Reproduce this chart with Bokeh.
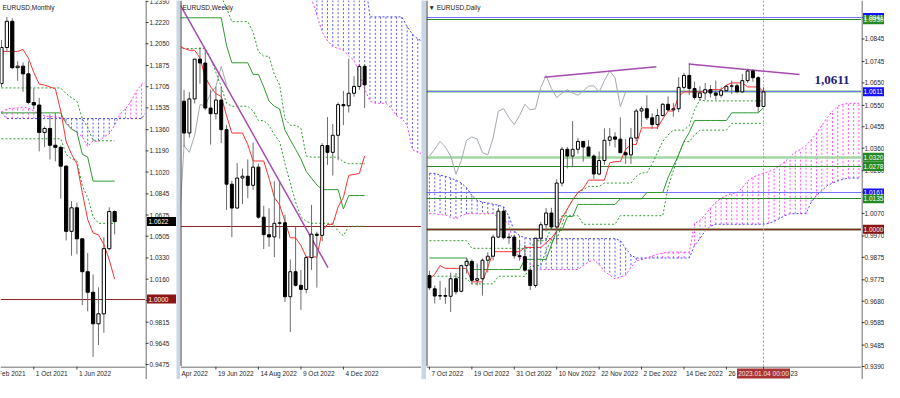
from bokeh.plotting import figure
from bokeh.layouts import row, column
from bokeh.models import ColumnDataSource, Range1d, Label, Span
from bokeh.core.properties import value
from bokeh.embed import file_html
from bokeh.resources import INLINE

# ======================= MONTHLY (x = months since Jan 2021) =======================
m_x = list(range(3, 25))
m_open = [1.1730, 1.2020, 1.2230, 1.1858, 1.1870, 1.1808, 1.1578, 1.1558, 1.1338, 1.1370, 1.1235,
          1.1218, 1.1067, 1.0544, 1.0733, 1.0484, 1.0220, 1.0055, 0.9802, 0.9882, 1.0405, 1.0703]
m_high = [1.2080, 1.2265, 1.2254, 1.1909, 1.1900, 1.1909, 1.1692, 1.1616, 1.1386, 1.1483, 1.1495,
          1.1233, 1.1076, 1.0787, 1.0774, 1.0488, 1.0369, 1.0198, 1.0094, 1.0497, 1.0737, 1.0713]
m_low = [1.1700, 1.1985, 1.1845, 1.1752, 1.1664, 1.1563, 1.1524, 1.1186, 1.1221, 1.1121, 1.1106,
         1.0806, 1.0471, 1.0349, 1.0359, 0.9952, 0.9901, 0.9536, 0.9632, 0.9730, 1.0393, 1.0520]
m_close = [1.2020, 1.2230, 1.1858, 1.1870, 1.1808, 1.1578, 1.1558, 1.1338, 1.1370, 1.1235, 1.1218,
           1.1067, 1.0544, 1.0733, 1.0484, 1.0220, 1.0055, 0.9802, 0.9882, 1.0405, 1.0703, 1.0622]
m_tenkan = [1.1988, 1.1988, 1.1988, 1.1988, 1.2004, 1.1934, 1.1819, 1.1726, 1.1718, 1.1703, 1.1688,
            1.1510, 1.1264, 1.1163, 1.1086, 1.0855, 1.0639, 1.0531, 1.0516, 1.0439, 1.0315, 1.0161]
m_kijun = [1.1495] * 12 + [1.1410, 1.1364, 1.1341, 1.1163, 1.1140, 1.0947, 1.0947, 1.0947, 1.0947, 1.0947]
m_dot1 = [1.1695] * 12 + [1.1649, 1.1618, 1.1588, 1.1449, 1.1379, 1.1271, 1.1271, 1.1271, 1.1271, 1.1271]
m_dot2 = [1.1287] * 12 + [1.1163, 1.1125, 1.1109, 1.0909, 1.0816, 1.0662, 1.0608, 1.0608, 1.0608, 1.0608]
m_cloud_x = list(range(3, 31))
m_span_a = [1.1495] + [1.1449] * 26 + [1.1510]
m_span_b = [1.1503, 1.1526, 1.1534, 1.1534, 1.1541, 1.1534, 1.1511, 1.1487, 1.1472, 1.1464, 1.1464,
            1.1456, 1.1426, 1.1372, 1.1341, 1.1302, 1.1225, 1.1271, 1.1264, 1.1302, 1.1326, 1.1395,
            1.1487, 1.1526, 1.1587, 1.1665, 1.1726, 1.1742]
m_yticks = [1.2390, 1.2220, 1.2050, 1.1875, 1.1705, 1.1535, 1.1360, 1.1190, 1.1020, 1.0845, 1.0675,
            1.0505, 1.0330, 1.0160, 0.9990, 0.9815, 0.9645, 0.9475]
m_xticks = [1, 9, 17]
m_xlabels = ["1 Feb 2021", "1 Oct 2021", "1 Jun 2022"]
m_levels = [1.0000]
m_tags = [1.0000, 1.0622]
m_tag_kind = ["maroon", "black"]

# ======================= WEEKLY (x = weeks from 19 Jun 2022) =======================
w_x = list(range(-6, 29))
w_open = [1.0550, 1.0410, 1.0560, 1.0735, 1.0718, 1.0520, 1.0495, 1.0555, 1.0425, 1.0185, 1.0080, 1.0212,
          1.0220, 1.0180, 1.0260, 1.0040, 0.9963, 0.9953, 1.0013, 1.0015, 0.9690, 0.9800, 0.9740, 0.9722,
          0.9862, 0.9965, 0.9960, 1.0355, 1.0325, 1.0400, 1.0535, 1.0530, 1.0585, 1.0615, 1.0703]
w_high = [1.0600, 1.0590, 1.0735, 1.0787, 1.0774, 1.0601, 1.0614, 1.0615, 1.0445, 1.0200, 1.0278, 1.0254,
          1.0294, 1.0368, 1.0275, 1.0090, 1.0079, 1.0198, 1.0197, 1.0050, 0.9854, 0.9999, 0.9807, 0.9870,
          1.0094, 0.9976, 1.0365, 1.0480, 1.0450, 1.0545, 1.0595, 1.0737, 1.0660, 1.0713, 1.0713]
w_low = [1.0350, 1.0390, 1.0540, 1.0627, 1.0510, 1.0359, 1.0470, 1.0366, 1.0072, 0.9952, 1.0078, 1.0097,
         1.0123, 1.0160, 1.0033, 0.9900, 0.9910, 0.9864, 0.9945, 0.9667, 0.9535, 0.9735, 0.9632, 0.9705,
         0.9808, 0.9730, 0.9935, 1.0270, 1.0223, 1.0290, 1.0445, 1.0500, 1.0570, 1.0600, 1.0520]
w_close = [1.0410, 1.0560, 1.0735, 1.0718, 1.0520, 1.0495, 1.0555, 1.0425, 1.0185, 1.0080, 1.0212, 1.0220,
           1.0180, 1.0260, 1.0040, 0.9963, 0.9953, 1.0013, 1.0015, 0.9690, 0.9800, 0.9740, 0.9722, 0.9862,
           0.9965, 0.9960, 1.0355, 1.0325, 1.0400, 1.0535, 1.0530, 1.0585, 1.0615, 1.0703, 1.0622]
w_line_x = list(range(-7, 29))
w_tenkan = [1.0795, 1.0782, 1.0774, 1.0774, 1.0740, 1.0655, 1.0613, 1.0583, 1.0571, 1.0486, 1.0410, 1.0410,
            1.0410, 1.0359, 1.0287, 1.0287, 1.0287, 1.0211, 1.0127, 1.0093, 1.0021, 0.9949, 0.9949, 0.9915,
            0.9865, 0.9865, 0.9865, 0.9979, 1.0008, 1.0008, 1.0085, 1.0127, 1.0224, 1.0228, 1.0232, 1.0309]
w_kijun = [1.0917] * 9 + [1.0795, 1.0719, 1.0719, 1.0719, 1.0719, 1.0668, 1.0668, 1.0613, 1.0550, 1.0528,
                          1.0516, 1.0423, 1.0380, 1.0338, 1.0296, 1.0241, 1.0211, 1.0182, 1.0161, 1.0161,
                          1.0161, 1.0161, 1.0076, 1.0135, 1.0135, 1.0135, 1.0135]
w_dot_b = [1.0782] * 6 + [1.0740, 1.0676, 1.0613, 1.0541, 1.0528, 1.0528, 1.0528, 1.0528, 1.0507, 1.0465,
                          1.0465, 1.0444, 1.0402, 1.0372, 1.0275, 1.0190, 1.0106, 1.0042, 1.0021, 1.0013,
                          1.0013, 1.0013, 1.0013, 1.0013, 0.9979, 0.9958, 1.0000, 1.0000, 1.0000, 1.0000]
w_dot_a_x = list(range(1, 29))
w_dot_a = [1.1010, 1.0960, 1.0900, 1.0900, 1.0900, 1.0900, 1.0854, 1.0769, 1.0748, 1.0748, 1.0668, 1.0621,
           1.0473, 1.0444, 1.0444, 1.0431, 1.0309, 1.0304, 1.0304, 1.0304, 1.0304, 1.0304, 1.0304, 1.0283,
           1.0275, 1.0275, 1.0275, 1.0275]
w_cloud_x = list(range(17, 40))
w_span_a = [1.1100] * 12 + [1.0921] * 7 + [1.0879, 1.0845, 1.0824, 1.0812]
w_span_b = [1.1030, 1.1000, 1.0930, 1.0854, 1.0816, 1.0790, 1.0782, 1.0774, 1.0748, 1.0731, 1.0676, 1.0604,
            1.0550, 1.0541, 1.0541, 1.0541, 1.0520, 1.0486, 1.0473, 1.0444, 1.0338, 1.0325, 1.0317]
w_trend_x = [-6.67, 21.1]
w_trend_y = [1.0972, 0.9818]
w_xticks = [0, 8, 16, 24]
w_xlabels = ["19 Jun 2022", "14 Aug 2022", "9 Oct 2022", "4 Dec 2022"]
w_first_label = "Apr 2022"
w_levels = [1.0000]

# ======================= DAILY (x = trading days from 7 Oct 2022) =======================
d_x = list(range(0, 64))
d_open = [0.9794, 0.9735, 0.9703, 0.9705, 0.9702, 0.9780, 0.9724, 0.9838, 0.9857, 0.9773, 0.9780, 0.9862,
          0.9880, 0.9965, 1.0080, 0.9962, 0.9965, 0.9882, 0.9878, 0.9818, 0.9750, 0.9960, 1.0020, 1.0072,
          1.0010, 1.0205, 1.0355, 1.0325, 1.0355, 1.0390, 1.0365, 1.0325, 1.0245, 1.0305, 1.0395, 1.0410,
          1.0400, 1.0340, 1.0330, 1.0405, 1.0525, 1.0535, 1.0495, 1.0465, 1.0505, 1.0555, 1.0530, 1.0535,
          1.0630, 1.0683, 1.0625, 1.0585, 1.0605, 1.0620, 1.0605, 1.0595, 1.0615, 1.0635, 1.0637, 1.0610,
          1.0660, 1.0703, 1.0673, 1.0545]
d_high = [0.9815, 0.9750, 0.9770, 0.9740, 0.9807, 0.9805, 0.9842, 0.9873, 0.9865, 0.9848, 0.9870, 0.9897,
          0.9976, 1.0094, 1.0090, 0.9984, 0.9975, 0.9952, 0.9930, 0.9830, 0.9960, 1.0032, 1.0094, 1.0095,
          1.0222, 1.0365, 1.0365, 1.0480, 1.0405, 1.0390, 1.0395, 1.0333, 1.0345, 1.0448, 1.0450, 1.0430,
          1.0497, 1.0400, 1.0450, 1.0535, 1.0545, 1.0595, 1.0515, 1.0535, 1.0560, 1.0590, 1.0560, 1.0675,
          1.0695, 1.0737, 1.0655, 1.0635, 1.0650, 1.0640, 1.0660, 1.0630, 1.0640, 1.0660, 1.0647, 1.0690,
          1.0713, 1.0710, 1.0680, 1.0630]
d_low = [0.9730, 0.9670, 0.9686, 0.9668, 0.9632, 0.9710, 0.9720, 0.9803, 0.9755, 0.9750, 0.9705, 0.9808,
         0.9861, 0.9960, 0.9955, 0.9935, 0.9870, 0.9860, 0.9811, 0.9730, 0.9740, 0.9935, 0.9990, 1.0000,
         0.9935, 1.0190, 1.0270, 1.0275, 1.0335, 1.0300, 1.0325, 1.0223, 1.0240, 1.0285, 1.0370, 1.0363,
         1.0340, 1.0290, 1.0290, 1.0390, 1.0455, 1.0485, 1.0445, 1.0445, 1.0500, 1.0525, 1.0500, 1.0520,
         1.0620, 1.0595, 1.0575, 1.0570, 1.0575, 1.0585, 1.0575, 1.0585, 1.0610, 1.0600, 1.0610, 1.0605,
         1.0650, 1.0655, 1.0520, 1.0545]
d_close = [0.9740, 0.9703, 0.9705, 0.9702, 0.9780, 0.9722, 0.9838, 0.9857, 0.9773, 0.9780, 0.9862, 0.9880,
           0.9965, 1.0080, 0.9962, 0.9965, 0.9882, 0.9878, 0.9818, 0.9750, 0.9960, 1.0020, 1.0072, 1.0010,
           1.0205, 1.0355, 1.0325, 1.0355, 1.0390, 1.0365, 1.0325, 1.0245, 1.0305, 1.0395, 1.0410, 1.0400,
           1.0340, 1.0330, 1.0405, 1.0525, 1.0535, 1.0495, 1.0465, 1.0505, 1.0555, 1.0530, 1.0535, 1.0630,
           1.0683, 1.0625, 1.0585, 1.0605, 1.0620, 1.0605, 1.0595, 1.0615, 1.0635, 1.0637, 1.0610, 1.0660,
           1.0703, 1.0673, 1.0545, 1.0610]
d_tenkan = ([0.9779, 0.9800, 0.9838] + [0.9826] * 5 + [0.9766] * 3 + [0.9830] + [0.9900] * 6 + [0.9919] * 4 +
            [0.9940, 0.9960, 0.9992, 1.0050, 1.0090, 1.0130, 1.0163, 1.0180] + [1.0218] * 4 + [1.0295] +
            [1.0300] * 2 + [1.0355] + [1.0376] * 2 + [1.0450] * 4 + [1.0490] + [1.0525] * 2 + [1.0590] +
            [1.0610] * 5 + [1.0620] * 3 + [1.0640] + [1.0650] * 3 + [1.0632] * 3 + [1.0611])
d_kijun = ([0.9872] * 8 + [0.9821] * 10 + [0.9866] * 5 + [0.9930, 0.9995, 0.9995, 1.0056, 1.0056] +
           [1.0110] * 8 + [1.0135] * 5 + [1.0163] * 4 + [1.0230, 1.0280, 1.0330, 1.0390, 1.0430] +
           [1.0483] * 7 + [1.0517] * 6 + [1.0540])
d_dot1 = ([0.9949] * 8 + [0.9915] * 12 + [0.9949] * 3 + [1.0013] * 2 + [1.0060] * 4 + [1.0022] * 7 +
          [1.0060] * 9 + [1.0186, 1.0260, 1.0333, 1.0389, 1.0389, 1.0419] + [1.0440] * 6 + [1.0470] * 7)
d_dot2 = ([0.9791] * 6 + [0.9780] * 2 + [0.9757] * 5 + [0.9791] * 6 + [0.9834] + [0.9838] * 2 +
          [0.9906, 0.9950, 0.9955, 1.0020, 1.0090, 1.0130, 1.0163, 1.0175] + [1.0190] * 3 + [1.0205] * 6 +
          [1.0235] + [1.0250] * 2 + [1.0290, 1.0340, 1.0390, 1.0419] + [1.0440] * 3 +
          [1.0461, 1.0530, 1.0576] + [1.0570] * 12)
d_cloud_x = list(range(0, 82))
d_span_a = ([1.0248, 1.0248, 1.0240, 1.0235, 1.0227, 1.0218, 1.0205, 1.0184, 1.0150, 1.0128, 1.0120, 1.0116,
             1.0111, 1.0107, 1.0099, 1.0056, 0.9992, 0.9971, 0.9962] + [0.9958] * 17 + [0.9949, 0.9915, 0.9885] +
            [0.9872] * 11 + [0.9928, 0.9958, 0.9992, 1.0013] + [1.0022] * 10 + [1.0026, 1.0035, 1.0047, 1.0060] +
            [1.0069] * 4 + [1.0120, 1.0150, 1.0171, 1.0193, 1.0205, 1.0214, 1.0222] + [1.0227] * 3)
d_span_b = ([1.0069, 1.0069, 1.0064, 1.0064, 1.0052, 1.0047, 1.0060] + [1.0069] * 6 +
            [1.0052, 1.0043, 1.0022, 0.9915, 0.9872, 0.9864, 0.9843, 0.9830] + [0.9821] * 8 +
            [0.9838, 0.9855, 0.9864, 0.9843, 0.9813, 0.9796, 0.9779, 0.9787, 0.9796, 0.9830, 0.9860, 0.9864,
             0.9872, 0.9881, 0.9889, 0.9894] + [0.9898] * 5 +
            [1.0026, 1.0039, 1.0064, 1.0094, 1.0120, 1.0137, 1.0150, 1.0158, 1.0163, 1.0184, 1.0214, 1.0231,
             1.0240, 1.0248, 1.0256, 1.0265, 1.0282, 1.0299, 1.0321, 1.0342, 1.0355, 1.0372, 1.0397, 1.0427,
             1.0461, 1.0495, 1.0525, 1.0547, 1.0555] + [1.0559] * 3)
d_trend1_x = [21.7, 42.8]
d_trend1_y = [1.0675, 1.0722]
d_trend2_x = [48.9, 69.8]
d_trend2_y = [1.0734, 1.0687]
d_levels = [1.0941, 1.0930, 1.0611, 1.0320, 1.0278, 1.0161, 1.0135, 1.0000]
d_level_kind = ["blue", "green", "blue", "lightgreen", "green", "blue", "green", "maroon"]
d_band_levels = [1.0611, 1.0000]
d_yticks = [1.0940, 1.0845, 1.0745, 1.0650, 1.0550, 1.0455, 1.0360, 1.0260, 1.0165, 1.0070, 0.9970,
            0.9875, 0.9775, 0.9680, 0.9585, 0.9485, 0.9390]
d_xticks = [0, 8, 16, 24, 32, 40, 48, 56, 63]
d_xlabels = ["7 Oct 2022", "19 Oct 2022", "31 Oct 2022", "10 Nov 2022", "22 Nov 2022", "2 Dec 2022",
             "14 Dec 2022", "26 Dec 2022", "4 Jan 2023"]
d_cursor = [63]
d_cursor_text = ["2023.01.04 00:00"]
d_key_level_text = "1,0611"

# ======================= styling / layout =======================
FONT = "Liberation Sans"
FS = "6.5px"
AXC = "#3c3c3c"
TXT = "#1e1e1e"
RED = "#ff3030"
GRN = "#2f9a2f"
BLUE = "#4646ff"
MAG = "#ff3cff"
CHIKOU = "#a3a9b2"
PURPLE = "#a64ab0"
SEP = "#c9d6e6"
FRAME_H = 366
BOTTOM = 13
FULL_H = FRAME_H + BOTTOM
KIND_COL = {"blue": "#7272ff", "green": "#2a8a2a", "lightgreen": "#a3d8a3", "maroon": "#8b2525"}
KIND_W = {"blue": 1.2, "green": 1, "lightgreen": 2.5, "maroon": 1.5}
TAG_COL = {"blue": "#1414ff", "green": "#238a23", "lightgreen": "#238a23", "maroon": "#8b1414",
           "black": "#000000"}

M_X = Range1d(2.818, 29.727); M_Y = Range1d(0.9459, 1.2397)
W_X = Range1d(-6.667, 38.70); W_Y = Range1d(0.9383, 1.0993)
D_X = Range1d(-0.556, 81.48); D_Y = Range1d(0.9390, 1.1016)


def bare(w, h, xr, yr):
    p = figure(width=w, height=h, x_range=xr, y_range=yr, output_backend="svg",
               toolbar_location=None, tools="", min_border=0,
               x_axis_location=None, y_axis_location=None)
    p.grid.visible = False
    p.outline_line_color = None
    p.background_fill_color = "white"
    p.border_fill_color = "white"
    return p


def candles(p, x, o, h, l, c, width):
    src = ColumnDataSource(dict(
        x=x, h=h, l=l,
        top=[max(a, b) for a, b in zip(o, c)],
        bot=[min(a, b) for a, b in zip(o, c)],
        fill=["white" if b >= a else "black" for a, b in zip(o, c)]))
    p.segment(x0="x", x1="x", y0="l", y1="h", source=src, line_color="#6b6b6b", line_width=1)
    p.vbar(x="x", width=width, top="top", bottom="bot", fill_color="fill",
           line_color="black", line_width=1, source=src)


def cloud(p, x, a, b):
    cols = ["#5a5aff" if aa >= bb else "#ff4dff" for aa, bb in zip(a, b)]
    p.segment(x0=x, x1=x, y0=a, y1=b, line_color=cols, line_dash="2 2", line_width=1)
    p.line(x, a, line_color=BLUE, line_dash="2 2", line_width=1)
    p.line(x, b, line_color=MAG, line_dash="2 2", line_width=1)


def title(p, xr, yr, text):
    p.add_layout(Label(x=xr.start, y=yr.end, text=text, x_offset=2, y_offset=-3, text_baseline="top",
                       text_align="left", text_font=FONT, text_font_size=FS, text_color="#202020"))


def yaxis_fig(w, yr, ticks, tags, tag_kinds, tx):
    # price scale column: same scale as the frame, extended down over the date strip
    ext = Range1d(yr.start - (yr.end - yr.start) * BOTTOM / FRAME_H, yr.end)
    a = bare(w, FULL_H, Range1d(0, w), ext)
    n = len(ticks)
    a.add_layout(Span(location=0.5, dimension="height", line_color=AXC, line_width=1))
    a.segment(x0=[0] * n, x1=[3] * n, y0=ticks, y1=ticks, line_color=AXC, line_width=1)
    a.text(x=[tx] * n, y=ticks, text=[f"{t:.4f}" for t in ticks], text_font=value(FONT),
           text_font_size=FS, text_baseline="middle", text_align="left", text_color=TXT)
    k = len(tags)
    a.rect(x=[(w + 1.5) / 2] * k, y=tags, width=[w - 1.5] * k, height=9, height_units="screen",
           fill_color=[TAG_COL[t] for t in tag_kinds], line_color=None)
    a.text(x=[tx - 1] * k, y=tags, text=[f"{t:.4f}" for t in tags], text_font=value(FONT),
           text_font_size=FS, text_baseline="middle", text_align="left", text_color="white")
    return a


def xaxis_fig(w, xr, ticks, labels):
    a = bare(w, BOTTOM, xr, Range1d(0, BOTTOM))
    n = len(ticks)
    a.add_layout(Span(location=BOTTOM - 0.5, dimension="width", line_color=AXC, line_width=1))
    a.segment(x0=ticks, x1=ticks, y0=[BOTTOM] * n, y1=[BOTTOM - 3] * n, line_color=AXC, line_width=1)
    a.text(x=ticks, y=[BOTTOM - 3] * n, text=labels, x_offset=2, text_font=value(FONT),
           text_font_size=FS, text_baseline="top", text_align="left", text_color=TXT)
    return a


# ---------------- Monthly ----------------
pm = bare(145, FRAME_H, M_X, M_Y)
cloud(pm, m_cloud_x, m_span_a, m_span_b)
pm.hspan(y=m_levels, line_color="#8b2525", line_width=1)
pm.line(m_x, m_dot1, line_color=GRN, line_dash="2 2", line_width=1)
pm.line(m_x, m_dot2, line_color=GRN, line_dash="2 2", line_width=1)
pm.line(m_x, m_kijun, line_color=GRN, line_width=1)
pm.line(m_x, m_tenkan, line_color=RED, line_width=1)
candles(pm, m_x, m_open, m_high, m_low, m_close, 0.6)
title(pm, M_X, M_Y, "EURUSD,Monthly")
pm_y = yaxis_fig(31, M_Y, m_yticks, m_tags, m_tag_kind, 4)
pm_x = xaxis_fig(145, M_X, m_xticks, m_xlabels)

# ---------------- Weekly ----------------
pw = bare(241, FRAME_H, W_X, W_Y)
cloud(pw, w_cloud_x, w_span_a, w_span_b)
pw.hspan(y=w_levels, line_color="#8b2525", line_width=1)
pw.line([x - 26 for x in w_x[25:]], w_close[25:], line_color=CHIKOU, line_width=1)
pw.line(w_dot_a_x, w_dot_a, line_color=GRN, line_dash="2 2", line_width=1)
pw.line(w_line_x, w_dot_b, line_color=GRN, line_dash="2 2", line_width=1)
pw.line(w_line_x, w_kijun, line_color=GRN, line_width=1)
pw.line(w_line_x, w_tenkan, line_color=RED, line_width=1)
pw.line(w_trend_x, w_trend_y, line_color=PURPLE, line_width=1.5)
candles(pw, w_x, w_open, w_high, w_low, w_close, 0.55)
pw.add_layout(Span(location=W_X.start, dimension="height", line_color=AXC, line_width=2))
title(pw, W_X, W_Y, "EURUSD,Weekly")
pw_x = xaxis_fig(241, W_X, w_xticks, w_xlabels)
pw_x.text(x=[W_X.start], y=[BOTTOM - 3], text=[w_first_label], x_offset=1, text_font=value(FONT),
          text_font_size=FS, text_baseline="top", text_align="left", text_color=TXT)

# ---------------- Daily ----------------
pd_ = bare(435, FRAME_H, D_X, D_Y)
cloud(pd_, d_cloud_x, d_span_a, d_span_b)
pd_.hspan(y=d_band_levels, line_color="#b5e0b5", line_width=3)
pd_.hspan(y=d_levels, line_color=[KIND_COL[k] for k in d_level_kind],
          line_width=[KIND_W[k] for k in d_level_kind])
pd_.line(d_x[:len(d_x) - 26], d_close[26:], line_color=CHIKOU, line_width=1)
pd_.line(d_x, d_dot1, line_color=GRN, line_dash="2 2", line_width=1)
pd_.line(d_x, d_dot2, line_color=GRN, line_dash="2 2", line_width=1)
pd_.line(d_x, d_kijun, line_color=GRN, line_width=1)
pd_.line(d_x, d_tenkan, line_color=RED, line_width=1)
pd_.line(d_trend1_x, d_trend1_y, line_color=PURPLE, line_width=1.5)
pd_.line(d_trend2_x, d_trend2_y, line_color=PURPLE, line_width=1.5)
pd_.vspan(x=d_cursor, line_color="#d08a8a", line_dash="2 2", line_width=1)
candles(pd_, d_x, d_open, d_high, d_low, d_close, 0.55)
pd_.add_layout(Span(location=D_X.start, dimension="height", line_color=AXC, line_width=2))
pd_.add_layout(Label(x=72.6, y=1.0663, text=d_key_level_text, text_baseline="middle", text_align="left",
                     text_font="Liberation Serif", text_font_style="bold", text_font_size="13px",
                     text_color="#202070"))
title(pd_, D_X, D_Y, "\u25BC EURUSD,Daily")
pd_y = yaxis_fig(23, D_Y, d_yticks, d_levels, d_level_kind, 3)
pd_x = xaxis_fig(435, D_X, d_xticks, d_xlabels)
pd_x.rect(x=d_cursor, y=[BOTTOM - 7], width=53, height=10, width_units="screen", height_units="screen",
          fill_color="#a83434", line_color=None)
pd_x.text(x=d_cursor, y=[BOTTOM - 7], text=d_cursor_text, text_font=value(FONT), text_font_size=FS,
          text_baseline="middle", text_align="center", text_color="#f4e6e6")


# ---------------- separators & layout ----------------
def block(w, h, color):
    b = bare(w, h, Range1d(0, 1), Range1d(0, 1))
    b.background_fill_color = color
    b.border_fill_color = color
    return b


panels = row(column(pm, pm_x), pm_y, block(4, FULL_H, SEP),
             column(pw, pw_x), block(5, FULL_H, SEP),
             column(pd_, pd_x), pd_y)
layout = column(panels, block(884, 3, "#dfe4ea"))

open("out.html", "w").write(file_html(layout, INLINE))
